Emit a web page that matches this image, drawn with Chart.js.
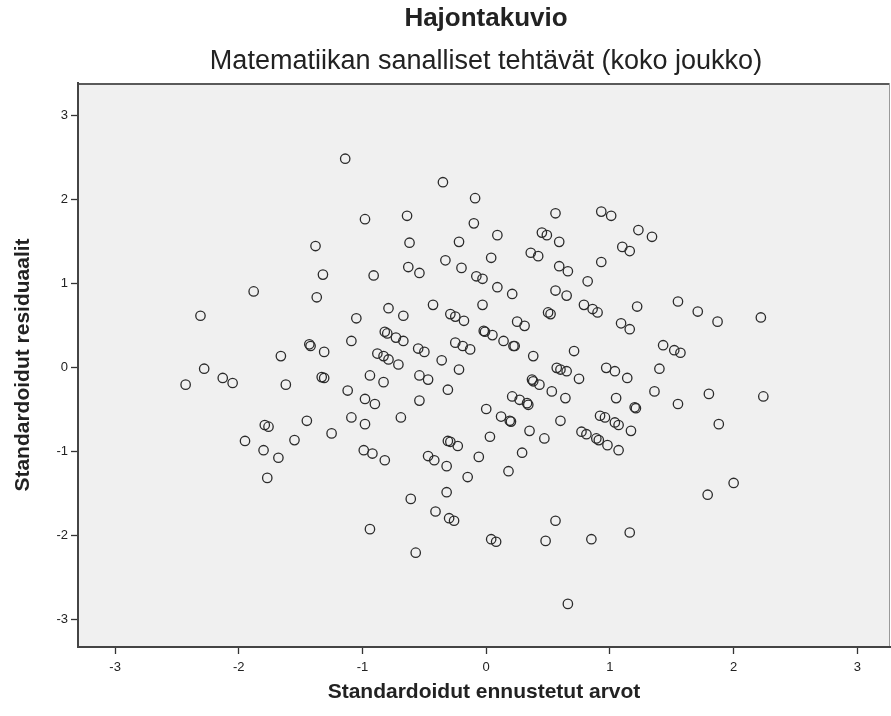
<!DOCTYPE html>
<html>
<head>
<meta charset="utf-8">
<script src="https://cdn.jsdelivr.net/npm/chart.js@4.4.1/dist/chart.umd.min.js"></script>
<style>
  html, body { margin: 0; padding: 0; background: #ffffff; }
  canvas { display: block; }
</style>
</head>
<body>
<canvas id="scatter" width="891" height="716"></canvas>
<script>
// Texts
const chartTitle = 'Hajontakuvio';
const chartSubtitle = 'Matematiikan sanalliset tehtävät (koko joukko)';
const xAxisTitle = 'Standardoidut ennustetut arvot';
const yAxisTitle = 'Standardoidut residuaalit';

// Tick values of both axes
const xTicks = [-3, -2, -1, 0, 1, 2, 3];
const yTicks = [-3, -2, -1, 0, 1, 2, 3];

// Standardised predicted values (x)
const predicted = [
  -1.14, -1.38, -1.32, -1.88, -1.37, -2.31, -1.05, -1.09, -1.43, -1.42,
  -1.31, -1.66, -2.28, -2.13, -2.05, -2.43, -1.62, -1.33, -1.31, -1.12,
  -1.09, -1.45, -1.25, -1.79, -1.76, -1.55, -1.95, -1.80, -1.68, -1.77,
  -0.35, -0.09, -0.98, -0.64, -0.10, 0.56, 0.93, 1.01, 0.09, 0.45,
  0.49, 0.59, -0.62, -0.22, 1.10, 1.16, -0.33, 0.04, 0.36, 0.42,
  0.93, -0.63, -0.54, -0.20, 0.59, 0.66, -0.91, -0.08, -0.03, 0.09,
  0.21, 0.56, 0.65, 0.82, -0.03, -0.43, -0.79, -0.67, -0.29, -0.25,
  -0.18, 0.25, 0.31, 0.50, 0.52, 0.79, 0.86, 0.90, 1.09, 1.16,
  -0.82, -0.80, -0.73, -0.67, -0.55, -0.50, -0.25, -0.19, -0.13, -0.02,
  -0.01, 0.05, 0.14, 0.22, 0.23, 0.38, 0.71, -0.88, -0.83, -0.79,
  -0.71, -0.36, -0.22, 0.57, 0.60, 0.65, 0.97, 1.04,
  1.23, 1.34, 1.22, 1.55, 1.71, 1.87, 2.22, 1.43, 1.52, 1.57, 1.40,
  1.14, 1.36, 1.20, 1.21, 1.55, 1.80, 2.24, 1.17, 1.88, 2.00, 1.79, 1.16,
  -0.94, -0.83, -0.54, -0.47, -0.31, -0.98, -0.90, -0.54, -0.98, -0.69,
  -0.99, -0.92, -0.82, -0.47, -0.42, -0.32, -0.31, -0.29, -0.23, -0.15,
  -0.06, 0.03, 0.00, 0.12, 0.19, 0.20, 0.21, 0.27, 0.33, 0.34,
  0.35, 0.47, 0.29, 0.18, 0.37, 0.38, 0.43, 0.53, 0.64, 0.60,
  0.75, 1.05, 0.92, 0.96, 1.04, 1.07, 0.77, 0.81, 0.89, 0.91,
  0.98, 1.07, -0.61, -0.41, -0.30, -0.26, -0.32, -0.94, -0.57, 0.04,
  0.08, 0.56, 0.48, 0.85, 0.66
];

// Standardised residuals (y)
const residuals = [
  2.48, 1.44, 1.10, 0.90, 0.83, 0.61, 0.58, 0.31, 0.27, 0.25,
  0.18, 0.13, -0.02, -0.13, -0.19, -0.21, -0.21, -0.12, -0.13, -0.28,
  -0.60, -0.64, -0.79, -0.69, -0.71, -0.87, -0.88, -0.99, -1.08, -1.32,
  2.20, 2.01, 1.76, 1.80, 1.71, 1.83, 1.85, 1.80, 1.57, 1.60,
  1.57, 1.49, 1.48, 1.49, 1.43, 1.38, 1.27, 1.30, 1.36, 1.32,
  1.25, 1.19, 1.12, 1.18, 1.20, 1.14, 1.09, 1.08, 1.05, 0.95,
  0.87, 0.91, 0.85, 1.02, 0.74, 0.74, 0.70, 0.61, 0.63, 0.60,
  0.55, 0.54, 0.49, 0.65, 0.63, 0.74, 0.69, 0.65, 0.52, 0.45,
  0.42, 0.40, 0.35, 0.31, 0.22, 0.18, 0.29, 0.25, 0.21, 0.43,
  0.42, 0.38, 0.31, 0.25, 0.25, 0.13, 0.19, 0.16, 0.13, 0.09,
  0.03, 0.08, -0.03, -0.01, -0.03, -0.05, -0.01, -0.05,
  1.63, 1.55, 0.72, 0.78, 0.66, 0.54, 0.59, 0.26, 0.20, 0.17, -0.02,
  -0.13, -0.29, -0.48, -0.49, -0.44, -0.32, -0.35, -0.76, -0.68, -1.38, -1.52, -1.97,
  -0.10, -0.18, -0.10, -0.15, -0.27, -0.38, -0.44, -0.40, -0.68, -0.60,
  -0.99, -1.03, -1.11, -1.06, -1.11, -1.18, -0.88, -0.89, -0.94, -1.31,
  -1.07, -0.83, -0.50, -0.59, -0.64, -0.65, -0.35, -0.39, -0.43, -0.45,
  -0.76, -0.85, -1.02, -1.24, -0.15, -0.17, -0.21, -0.29, -0.37, -0.64,
  -0.14, -0.37, -0.58, -0.60, -0.66, -0.69, -0.77, -0.80, -0.85, -0.87,
  -0.93, -0.99, -1.57, -1.72, -1.80, -1.83, -1.49, -1.93, -2.21, -2.05,
  -2.08, -1.83, -2.07, -2.05, -2.82
];

const FONT = "'Liberation Sans', Arial, Helvetica, sans-serif";
const INK = '#222222';

const points = predicted.map((x, i) => ({ x: x, y: residuals[i] }));

// Grey plot panel with its top and right frame lines
const plotPanel = {
  id: 'plotPanel',
  beforeDraw(chart) {
    const { ctx, chartArea: a } = chart;
    ctx.save();
    ctx.fillStyle = '#f0f0f0';
    ctx.fillRect(a.left, a.top, a.right - a.left, a.bottom - a.top);
    ctx.strokeStyle = '#5a5a5a';
    ctx.lineWidth = 2;
    ctx.beginPath();
    ctx.moveTo(a.left, a.top + 1);
    ctx.lineTo(a.right, a.top + 1);
    ctx.stroke();
    ctx.strokeStyle = '#9a9a9a';
    ctx.lineWidth = 1;
    ctx.beginPath();
    ctx.moveTo(a.right - 0.5, a.top);
    ctx.lineTo(a.right - 0.5, a.bottom);
    ctx.stroke();
    ctx.restore();
  }
};

// Heading and subheading, centred over the plot panel
const headings = {
  id: 'headings',
  afterDraw(chart) {
    const { ctx, chartArea: a } = chart;
    const cx = (a.left + a.right) / 2 + 2;
    ctx.save();
    ctx.fillStyle = INK;
    ctx.textAlign = 'center';
    ctx.textBaseline = 'middle';
    ctx.font = 'bold 26px ' + FONT;
    ctx.fillText(chartTitle, cx, 19);
    ctx.font = '27px ' + FONT;
    ctx.fillText(chartSubtitle, cx, 62);
    ctx.restore();
  }
};

new Chart(document.getElementById('scatter'), {
  type: 'scatter',
  data: {
    datasets: [{
      data: points,
      pointStyle: 'circle',
      pointRadius: 4.7,
      pointHoverRadius: 4.7,
      pointBorderWidth: 1.3,
      pointBorderColor: '#2b2b2b',
      pointBackgroundColor: 'rgba(0,0,0,0)'
    }]
  },
  options: {
    responsive: false,
    animation: false,
    events: [],
    layout: { autoPadding: false, padding: { top: 83, right: 1, left: 0, bottom: 0 } },
    plugins: {
      legend: { display: false },
      tooltip: { enabled: false },
      title: { display: false }
    },
    scales: {
      x: {
        type: 'linear',
        min: -3.30,
        max: 3.264,
        afterBuildTicks: s => { s.ticks = xTicks.map(v => ({ value: v })); },
        afterFit: s => { s.height = 69; s.paddingLeft = 0; s.paddingRight = 0; },
        grid: { drawOnChartArea: false, drawTicks: true, tickLength: 7, tickWidth: 1.3, tickColor: '#333' },
        border: { display: true, color: '#444', width: 2 },
        ticks: { font: { family: FONT, size: 13 }, color: INK, padding: 6 },
        title: {
          display: true, text: xAxisTitle, color: INK,
          font: { family: FONT, size: 21, weight: 'bold' },
          padding: { top: 0, bottom: 11 }
        }
      },
      y: {
        type: 'linear',
        min: -3.333,
        max: 3.381,
        afterBuildTicks: s => { s.ticks = yTicks.map(v => ({ value: v })); },
        afterFit: s => { s.width = 78; s.paddingTop = 0; s.paddingBottom = 0; },
        grid: { drawOnChartArea: false, drawTicks: true, tickLength: 7, tickWidth: 1.3, tickColor: '#333' },
        border: { display: true, color: '#444', width: 2 },
        ticks: { font: { family: FONT, size: 13 }, color: INK, padding: 3 },
        title: {
          display: true, text: yAxisTitle, color: INK,
          font: { family: FONT, size: 21, weight: 'bold' },
          padding: { top: 11, bottom: 0 }
        }
      }
    }
  },
  plugins: [plotPanel, headings]
});
</script>
</body>
</html>
